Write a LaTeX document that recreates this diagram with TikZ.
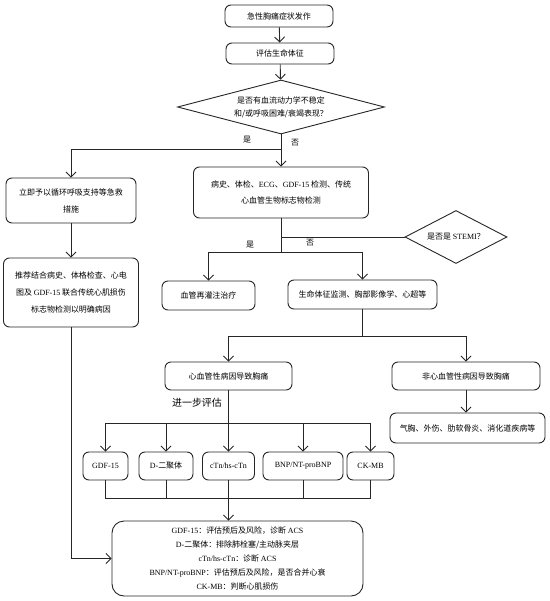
\documentclass[tikz,border=0pt]{standalone}
\usepackage{fontspec}
\setmainfont{Noto Sans CJK SC}
\newfontfamily\enfont{Liberation Serif}
\usetikzlibrary{positioning, arrows.meta, shapes.geometric}
\tikzset{
  flowbox/.style={draw=black!85, line width=0.9bp, rounded corners=6bp, align=center,
    inner sep=2bp, font=\fontsize{8}{14}\selectfont},
  decision/.style={draw=black!85, line width=0.9bp, diamond, inner sep=0bp, align=center,
    font=\fontsize{8}{13}\selectfont},
  wire/.style={-{Straight Barb[length=5bp, width=10bp]}, line width=0.9bp, black!85},
  joint/.style={line width=0.9bp, black!85},
  tag/.style={font=\fontsize{8}{10}\selectfont}
}

\begin{document}
\begin{tikzpicture}[x=1bp, y=-1bp]
        \useasboundingbox (0,0) rectangle (550,601);
        % top of the chart
        \node[flowbox, minimum width=108bp, minimum height=22bp] (onset)  at (279,16) {急性胸痛症状发作};
        \node[flowbox, minimum width=108bp, minimum height=21bp] (vital)  at (280,53.5) {评估生命体征};
        \node[decision, aspect=3.8, minimum width=207bp, minimum height=54bp] (hemo) at (281,107)
             {是否有血流动力学不稳定\\和/或呼吸困难/衰竭表现？};
        % left branch
        \node[flowbox, minimum width=130bp, minimum height=45bp, font=\fontsize{8}{17}\selectfont] (rescue) at (71,200.5)
             {立即予以循环呼吸支持等急救\\措施};
        \node[flowbox, minimum width=135bp, minimum height=69bp, font=\fontsize{8}{17.5}\selectfont] (cause) at (71,292.5)
             {推荐结合病史、体格检查、心电\\图及 {\enfont GDF-15} 联合传统心肌损伤\\标志物检测以明确病因};
        % right branch
        \node[flowbox, minimum width=175bp, minimum height=51bp, font=\fontsize{8}{16}\selectfont] (history) at (281,192.5)
             {病史、体检、{\enfont ECG}、{\enfont GDF-15} 检测、传统\\心血管生物标志物检测};
        \node[decision, aspect=1.9, minimum width=102bp, minimum height=53bp] (stemi) at (456,237)
             {是否是 {\enfont STEMI}？};
        \node[flowbox, minimum width=93bp, minimum height=29bp]  (reperf)  at (208.5,295.5) {血管再灌注治疗};
        \node[flowbox, minimum width=149bp, minimum height=29bp] (monitor) at (362.5,294.5) {生命体征监测、胸部影像学、心超等};
        \node[flowbox, minimum width=127bp, minimum height=28bp] (cardio)    at (228.5,376) {心血管性病因导致胸痛};
        \node[flowbox, minimum width=148bp, minimum height=28bp] (noncardio) at (466,376) {非心血管性病因导致胸痛};
        \node[flowbox, minimum width=155bp, minimum height=30bp] (other) at (467.5,428) {气胸、外伤、肋软骨炎、消化道疾病等};
        \node[font=\fontsize{10}{12}\selectfont] (further) at (197,403) {进一步评估};
        % markers
        \node[flowbox, minimum width=45bp, minimum height=28bp] (gdf)    at (105.5,466) {\enfont GDF-15};
        \node[flowbox, minimum width=54bp, minimum height=28bp] (ddimer) at (166,466) {{\enfont D-}二聚体};
        \node[flowbox, minimum width=52bp, minimum height=28bp] (ctn)    at (228.5,466) {\enfont cTn/hs-cTn};
        \node[flowbox, minimum width=80bp, minimum height=28bp] (bnp)    at (303,466) {\enfont BNP/NT-proBNP};
        \node[flowbox, minimum width=47bp, minimum height=28bp] (ckmb)   at (370.5,466) {\enfont CK-MB};
        \node[flowbox, rounded corners=12bp, minimum width=251bp, minimum height=75bp] (summary) at (237.5,558.5)
             {{\enfont GDF-15}：评估预后及风险，诊断 {\enfont ACS}\\
              {\enfont D-}二聚体：排除肺栓塞/主动脉夹层\\
              {\enfont cTn/hs-cTn}：诊断 {\enfont ACS}\\
              {\enfont BNP/NT-proBNP}：评估预后及风险，是否合并心衰\\
              {\enfont CK-MB}：判断心肌损伤};
        % joints
        \coordinate (split1) at (281,149);
        \coordinate (split2) at (281,252);
        \coordinate (split3) at (362.5,336);
        \coordinate (split4) at (228.5,423);
        \coordinate (merge)  at (228.5,498);
        % yes / no
        \node[tag] (yes1) at (247,140) {是};
        \node[tag] (no1)  at (295,143) {否};
        \node[tag] (yes2) at (250,245) {是};
        \node[tag] (no2)  at (310,243) {否};
        % connectors
        \draw[wire] (onset) -- (vital);
        \draw[wire] (vital) -- (hemo);
        \draw[wire] (hemo.south) -- (history.north);
        \draw[wire] (split1) -| (rescue.north);
        \draw[wire] (rescue) -- (cause);
        \draw[wire] (cause.south) |- (summary.west);
        \draw[joint] (history.south) -- (split2);
        \draw[joint] (history.south |- stemi.west) -- (stemi.west);
        \draw[wire] (split2) -| (reperf.north);
        \draw[wire] (split2) -| (monitor.north);
        \draw[joint] (monitor.south) -- (split3);
        \draw[wire] (split3) -| (cardio.north);
        \draw[wire] (split3) -| (noncardio.north);
        \draw[wire] (noncardio.south) -- (noncardio.south |- other.north);
        \draw[joint] (cardio.south) -- (split4);
        \foreach \m in {gdf, ddimer, ctn, bnp, ckmb}
          \draw[wire] (split4) -| (\m.north);
        \foreach \m in {gdf, ddimer, bnp, ckmb}
          \draw[joint] (\m.south) |- (merge);
        \draw[wire] (ctn.south) -- (ctn.south |- summary.north);
\end{tikzpicture}
\end{document}
